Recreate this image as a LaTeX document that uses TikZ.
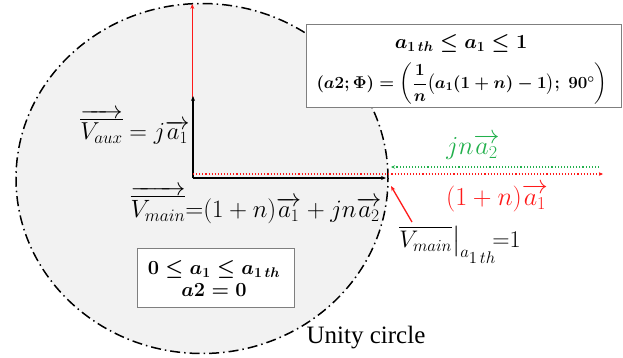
\RequirePackage{fix-cm}
\documentclass[tikz,border=0pt]{standalone}
\usepackage{amsmath}
\usepackage{fontspec}
\newfontfamily\unityfont{Liberation Serif}
\usetikzlibrary{arrows.meta}
\definecolor{cfill}{HTML}{F2F2F2}
\definecolor{vred}{HTML}{FF1A1A}
\definecolor{vgreen}{HTML}{22B04C}
\definecolor{boxgray}{HTML}{7F7F7F}
\tikzset{
  unity/.style={draw=black, line width=1.5pt, dash pattern=on 10pt off 4pt on 1.5pt off 4pt, fill=cfill},
  blackvec/.style={draw=black, line width=1.6pt, -{Stealth[length=5pt,width=4pt]}},
  redvec/.style={draw=vred, line width=1.3pt, -{Stealth[length=5pt,width=4pt]}},
  reddot/.style={draw=vred, line width=1.1pt, dotted, -{Stealth[length=4pt,width=3.5pt]}},
  greendot/.style={draw=vgreen, line width=1.1pt, dotted, -{Stealth[length=4pt,width=3.5pt]}},
  condbox/.style={draw=boxgray, line width=0.9pt, fill=white, inner sep=0pt},
  lbl/.style={inner sep=0pt, anchor=center}
}
\begin{document}
\begin{tikzpicture}[x=1pt,y=-1pt]
\useasboundingbox (0,0) rectangle (623,357);
% unity circle
\path[unity] (202,178.5) ellipse [x radius=186pt, y radius=175pt];
% coordinates
\coordinate (O) at (193,178);
\coordinate (Or) at (192.3,178);
\coordinate (topR) at (192.3,4);
\coordinate (auxtip) at (193,96);
\coordinate (maintip) at (386,178);
\coordinate (rs) at (193,174);
\coordinate (re) at (603,174);
\coordinate (gs) at (599,167);
\coordinate (ge) at (391,167);
\coordinate (ps) at (412,222);
\coordinate (pe) at (391,186);
% vectors
\draw[redvec] (Or) -- (topR);
\draw[blackvec] (O) -- (auxtip);
\draw[blackvec] (O) -- (maintip);
\draw[reddot] (rs) -- (re);
\draw[greendot] (gs) -- (ge);
\draw[redvec] (ps) -- (pe);
% boxes
\node[condbox, minimum width=315pt, minimum height=83pt] (b1) at (463.5,65.5) {};
\node[lbl] (b1a) at (461,43) {{\fontsize{20}{24}\selectfont\boldmath$a_{1\,th}\le a_1\le 1$}};
\node[lbl] (b1b) at (462,84) {{\fontsize{17}{20}\selectfont\boldmath$(a2;\Phi)=\left(\dfrac{1}{n}\bigl(a_1(1+n)-1\bigr);\ 90^\circ\right)$}};
\node[condbox, minimum width=157pt, minimum height=59pt] (b2) at (215.5,277.5) {};
\node[lbl] (b2a) at (214,269) {{\fontsize{20}{24}\selectfont\boldmath$0\le a_1\le a_{1\,th}$}};
\node[lbl] (b2b) at (214,290) {{\fontsize{20}{24}\selectfont\boldmath$a2=0$}};
% labels
\node[lbl] (vaux) at (135,127) {{\fontsize{24.5}{28}\selectfont$\overrightarrow{\overline{V_{aux}}}=j\overrightarrow{a_1}$}};
\node[lbl] (vmain) at (256,205) {{\fontsize{25}{29}\selectfont$\overrightarrow{\overline{V_{main}}}{=}(1+n)\overrightarrow{a_1}+jn\overrightarrow{a_2}$}};
\node[lbl, text=vgreen] (glbl) at (473,147) {{\fontsize{26}{30}\selectfont$jn\overrightarrow{a_2}$}};
\node[lbl, text=vred] (rlbl) at (497,198) {{\fontsize{26}{30}\selectfont$(1+n)\overrightarrow{a_1}$}};
\node[lbl] (vth) at (460,245) {{\fontsize{24}{28}\selectfont$\overline{V_{main}}\big|_{a_{\scriptstyle 1\,th}}\!$=1}};
\node[lbl] (unitylbl) at (366,338) {{\fontsize{25}{29}\selectfont\unityfont Unity circle}};
\end{tikzpicture}
\end{document}
